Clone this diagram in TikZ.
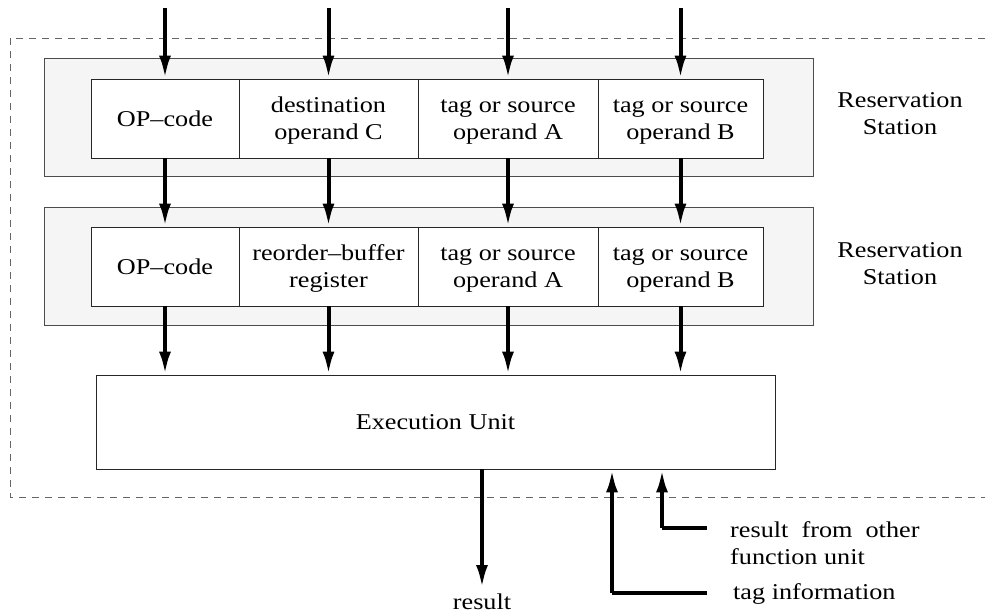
\documentclass[tikz,border=0pt]{standalone}
\usepackage{fontspec}
\setmainfont[FakeStretch=1.16]{Liberation Serif}
\usetikzlibrary{arrows.meta,positioning}
\begin{document}
\begin{tikzpicture}[x=1pt,y=-1pt,
  txt/.style={font=\fontsize{22.6}{27}\selectfont, align=center, inner sep=0pt},
  cell/.style={txt, draw=black!85, line width=0.9pt, fill=white, minimum height=79pt},
  rsbox/.style={draw=black!70, line width=1pt, fill=black!4, inner sep=0pt},
  flow/.style={line width=4pt, -{Latex[length=23pt,width=12pt]}},
  feed/.style={line width=4pt},
  bound/.style={draw=black!60, line width=0.9pt, dash pattern=on 7pt off 6pt}]
\useasboundingbox (0,0) rectangle (985,614);
% dashed unit boundary
\draw[bound] (985,38) -- (10,38) -- (10,497) -- (985,497);
% reservation station backgrounds
\node[rsbox, minimum width=769pt, minimum height=118pt] (rs1) at (428.5,117) {};
\node[rsbox, minimum width=769pt, minimum height=118pt] (rs2) at (428.5,266) {};
% first row cells
\node[cell, minimum width=148pt] (a1) at (165,118.5) {OP--code};
\node[cell, minimum width=179pt] (b1) at (328.5,118.5) {\strut destination\\operand C};
\node[cell, minimum width=180pt] (c1) at (508,118.5) {\strut tag or source\\operand A};
\node[cell, minimum width=165pt] (d1) at (680.5,118.5) {\strut tag or source\\operand B};
% second row cells
\node[cell, minimum width=148pt] (a2) at (165,266.5) {OP--code};
\node[cell, minimum width=179pt] (b2) at (328.5,266.5) {\strut reorder--buffer\\register};
\node[cell, minimum width=180pt] (c2) at (508,266.5) {\strut tag or source\\operand A};
\node[cell, minimum width=165pt] (d2) at (680.5,266.5) {\strut tag or source\\operand B};
% labels
\node[txt] (l1) at (900,114) {Reservation\\Station};
\node[txt] (l2) at (900,264) {Reservation\\Station};
% execution unit
\node[cell, minimum width=679pt, minimum height=94pt] (ex) at (435.5,422) {Execution Unit};
% inputs from the top
\foreach \n in {a1,b1,c1,d1}{
  \coordinate (t\n) at (\n.north |- 0,8);
  \draw[flow] (t\n) -- (\n.north);
}
\draw[flow] (a1.south) -- (a2.north);
\draw[flow] (b1.south) -- (b2.north);
\draw[flow] (c1.south) -- (c2.north);
\draw[flow] (d1.south) -- (d2.north);
\foreach \n in {a2,b2,c2,d2}{
  \draw[flow] (\n.south) -- (\n.south |- ex.north);
}
% result
\coordinate (rend) at (482,588);
\draw[flow] (ex.south -| rend) -- (rend);
\node[txt, anchor=base] (res) at (482,609) {result};
% tag information
\node[txt, anchor=west] (tag) at (733,594) {tag information};
\coordinate (tg) at (612,593);
\draw[feed] (707,593) coordinate (tgs) -- (tg);
\draw[flow] (tg) -- (tg |- ex.south);
% result from other function unit
\node[txt, anchor=west, align=left] (oth) at (730,543) {result\ \ from\ \ other\\function unit};
\coordinate (ot) at (662,528);
\draw[feed] (707,528) coordinate (ots) -- (ot);
\draw[flow] (ot) -- (ot |- ex.south);
\end{tikzpicture}
\end{document}
